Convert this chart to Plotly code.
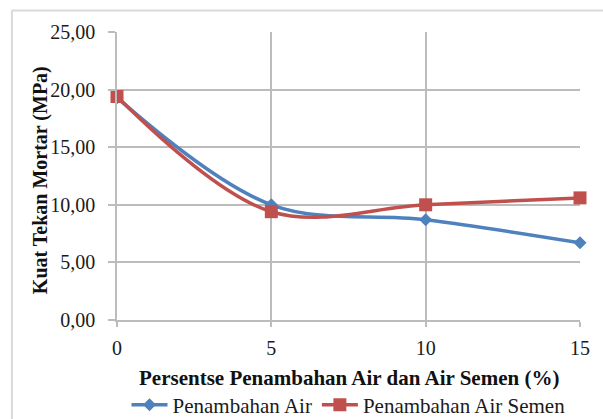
import plotly.graph_objects as go

# Persentase penambahan (%)
persen = [0, 5, 10, 15]
# Kuat tekan mortar (MPa)
penambahan_air = [19.3, 10.0, 8.7, 6.7]
penambahan_air_semen = [19.4, 9.4, 10.0, 10.6]

y_ticks = [0, 5, 10, 15, 20, 25]
y_labels = ["0,00", "5,00", "10,00", "15,00", "20,00", "25,00"]
x_ticks = [0, 5, 10, 15]

x_title = "Persentse Penambahan Air dan Air Semen (%)"
y_title = "Kuat Tekan Mortar (MPa)"

BLUE = "#4F81BD"
RED = "#C0504D"
GRID = "#BCBCBC"
FONT = "Liberation Serif, Times New Roman, serif"
TXT = "#1a1a1a"

fig = go.Figure()
fig.add_trace(go.Scatter(
    x=persen, y=penambahan_air, name="Penambahan Air",
    mode="lines+markers",
    line=dict(color=BLUE, width=3.5, shape="spline", smoothing=1),
    marker=dict(symbol="diamond", size=10, color=BLUE),
    cliponaxis=False,
))
fig.add_trace(go.Scatter(
    x=persen, y=penambahan_air_semen, name="Penambahan Air Semen",
    mode="lines+markers",
    line=dict(color=RED, width=3.5, shape="spline", smoothing=1),
    marker=dict(symbol="square", size=13, color=RED),
    cliponaxis=False,
))

fig.update_layout(
    width=603, height=419,
    margin=dict(l=117, r=23, t=32, b=99, autoexpand=False),
    paper_bgcolor="white", plot_bgcolor="white",
    font=dict(family=FONT, size=20, color=TXT),
    showlegend=True,
    legend=dict(orientation="h", x=0.5, xanchor="center",
                yref="container", y=1 - 405 / 419, yanchor="middle",
                font=dict(family=FONT, size=21, color=TXT),
                itemwidth=36, tracegroupgap=0, bgcolor="rgba(0,0,0,0)"),
    shapes=[
        # chart-area frame (top and left edges)
        dict(type="line", xref="paper", yref="paper", x0=-0.227, x1=1.1, y0=1.075, y1=1.075,
             line=dict(color="#D9D9D9", width=2)),
        dict(type="line", xref="paper", yref="paper", x0=-0.227, x1=-0.227, y0=1.075, y1=-0.4,
             line=dict(color="#D9D9D9", width=2)),
    ],
    annotations=[
        dict(text=f"<b>{x_title}</b>", xref="paper", yref="paper",
             x=0.502, y=-0.201, xanchor="center", yanchor="middle", showarrow=False,
             font=dict(family=FONT, size=21, color="#111")),
        dict(text=f"<b>{y_title}</b>", xref="paper", yref="paper",
             x=-0.166, y=0.486, xanchor="center", yanchor="middle", showarrow=False,
             textangle=-90, font=dict(family=FONT, size=20, color="#111")),
    ],
)

fig.update_xaxes(
    range=[0, 15], tickvals=x_ticks, ticktext=[str(v) for v in x_ticks],
    showgrid=True, gridcolor=GRID, gridwidth=1.5,
    showline=True, linecolor=GRID, linewidth=1.5,
    ticks="outside", ticklen=5, tickcolor=GRID, tickwidth=1.5,
    ticklabelstandoff=4,
    zeroline=False, automargin=False,
    tickfont=dict(family=FONT, size=20, color=TXT),
)
fig.update_yaxes(
    range=[0, 25], tickvals=y_ticks, ticktext=y_labels,
    showgrid=True, gridcolor=GRID, gridwidth=1.5,
    showline=True, linecolor=GRID, linewidth=1.5,
    ticks="outside", ticklen=7, tickcolor=GRID, tickwidth=1.5,
    ticklabelstandoff=9,
    zeroline=False, automargin=False,
    tickfont=dict(family=FONT, size=20, color=TXT),
)

fig.write_html("out.html")
